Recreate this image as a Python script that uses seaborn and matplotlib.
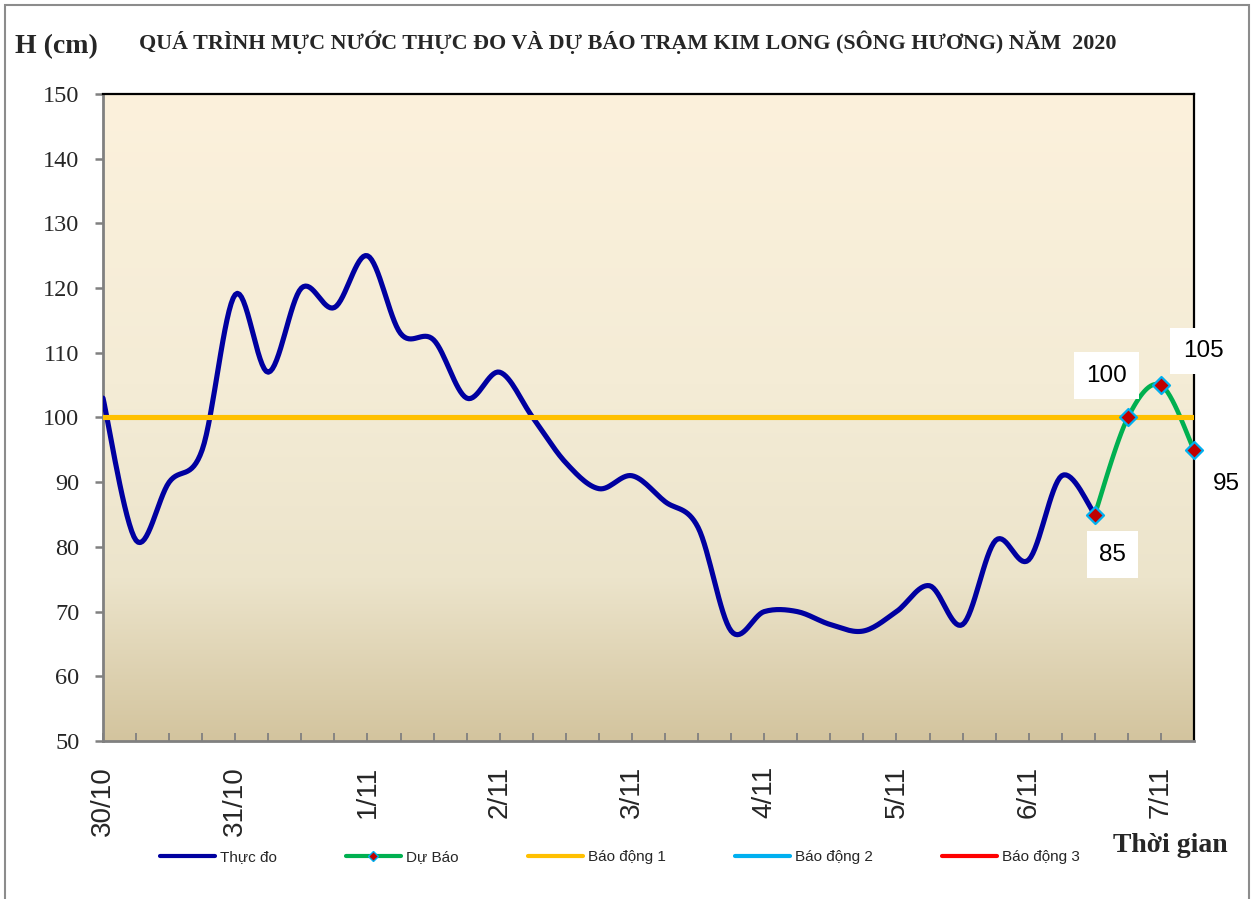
import numpy as np
import pandas as pd
import matplotlib
matplotlib.use("Agg")
import matplotlib.pyplot as plt
import seaborn as sns
from matplotlib.lines import Line2D
from matplotlib.patches import Rectangle
from matplotlib.ticker import MultipleLocator, FixedLocator, FixedFormatter

# --- data (6-hourly) ---
obs_times = pd.date_range("2020-10-30 00:00", "2020-11-06 12:00", freq="6h")
obs_level = [103, 81, 90, 95, 119, 107, 120, 117, 125, 113, 112, 103, 107, 100,
             93, 89, 91, 87, 83, 67, 70, 70, 68, 67, 70, 74, 68, 81, 78, 91, 85]
fc_times = pd.date_range("2020-11-06 12:00", "2020-11-07 06:00", freq="6h")
fc_level = [85, 100, 105, 95]
alarm_levels = [100, 200, 350]   # Báo động 1, 2, 3
day_labels = ["30/10", "31/10", "1/11", "2/11", "3/11", "4/11", "5/11", "6/11", "7/11"]

t0 = obs_times[0]
obs_h = (obs_times - t0) / pd.Timedelta(hours=1)
fc_h = (fc_times - t0) / pd.Timedelta(hours=1)

sns.set_style("white")
plt.rcParams['font.family'] = ['Liberation Sans', 'DejaVu Sans']
SERIF = ['Liberation Serif', 'DejaVu Serif']


def smooth(x, y, n=16):
    # Catmull-Rom curve through the points (like Excel "smoothed line")
    x = np.asarray(x, float)
    y = np.asarray(y, float)
    t = np.linspace(0, 1, n, endpoint=False)[None, :]
    out = []
    for v in (x, y):
        p = np.r_[v[0], v, v[-1]]
        p0, p1, p2, p3 = [p[i:i + len(v) - 1][:, None] for i in range(4)]
        c = 0.5 * (2 * p1 + (p2 - p0) * t + (2 * p0 - 5 * p1 + 4 * p2 - p3) * t ** 2
                   + (-p0 + 3 * p1 - 3 * p2 + p3) * t ** 3)
        out.append(np.r_[c.ravel(), v[-1]])
    return out


W, H = 1255, 899
fig = plt.figure(figsize=(W / 100, H / 100), dpi=100)
ax = fig.add_axes([103 / W, (H - 741) / H, (1194 - 103) / W, (741 - 94) / H])

# background gradient of plot area (row 0 = top)
stops = np.array([[252, 241, 220], [244, 236, 214], [236, 228, 203], [211, 196, 158]]) / 255
pos = [0, 0.45, 0.75, 1.0]
yy = np.linspace(0, 1, 256)
grad = np.stack([np.interp(yy, pos, stops[:, k]) for k in range(3)], axis=1)
ax.imshow(grad[:, None, :], extent=[0, 1, 0, 1], transform=ax.transAxes,
          aspect='auto', zorder=0)

xs, ys = smooth(obs_h, obs_level)
sns.lineplot(x=xs, y=ys, ax=ax, color='#0000A0', linewidth=3.7, sort=False,
             estimator=None, zorder=3, legend=False)
xs, ys = smooth(fc_h, fc_level)
sns.lineplot(x=xs, y=ys, ax=ax, color='#00B050', linewidth=3.3, sort=False,
             estimator=None, zorder=3, legend=False)

alarm_colors = ['#FFC000', '#00B0F0', '#FF0000']
for lv, col in zip(alarm_levels, alarm_colors):
    ax.axhline(lv, color=col, linewidth=3.7, zorder=4)

sns.scatterplot(x=fc_h, y=fc_level, ax=ax, marker='D', s=75, color='#C00000',
                edgecolor='#00B0F0', linewidth=1.6, zorder=6, legend=False,
                clip_on=False)

# data labels
offsets = [(18, -40), (-21, 42), (42, 34), (32, -34)]
for h, v, (dx, dy) in zip(fc_h, fc_level, offsets):
    ax.annotate(str(v), xy=(h, v), xytext=(dx, dy), textcoords='offset pixels',
                ha='center', va='center', fontsize=17.5, color='black', zorder=7,
                annotation_clip=False,
                bbox=dict(boxstyle='square,pad=0.5', fc='white', ec='none'))

ax.set_xlim(0, fc_h[-1])
ax.set_ylim(50, 150)
ax.yaxis.set_major_locator(MultipleLocator(10))
ax.xaxis.set_major_locator(FixedLocator(np.arange(len(day_labels)) * 24))
ax.xaxis.set_major_formatter(FixedFormatter(day_labels))
ax.xaxis.set_minor_locator(MultipleLocator(6))
ax.tick_params(axis='x', which='both', direction='in', length=6, width=1.3,
               color='#808080', pad=18, labelsize=20, labelrotation=90, bottom=True)
ax.tick_params(axis='y', direction='out', length=6, width=1.8, color='#808080',
               pad=11, left=True)
for lab in ax.get_yticklabels():
    lab.set_fontfamily(SERIF)
    lab.set_fontsize(17.5)
ax.set_xlabel('')
ax.set_ylabel('')

for side in ['left', 'bottom']:
    ax.spines[side].set_color('#808080')
    ax.spines[side].set_linewidth(2)
for side in ['top', 'right']:
    ax.spines[side].set_color('black')
    ax.spines[side].set_linewidth(1.6)

# texts
fig.text(628 / W, 1 - 42 / H,
         'QUÁ TRÌNH MỰC NƯỚC THỰC ĐO VÀ DỰ BÁO TRẠM KIM LONG (SÔNG HƯƠNG) NĂM  2020',
         ha='center', va='center', fontsize=15.8, fontweight='bold', family=SERIF)
fig.text(15 / W, 1 - 47 / H, 'H (cm)', ha='left', va='center', fontsize=20,
         fontweight='bold', family=SERIF)
fig.text(1228 / W, 1 - 845 / H, 'Thời gian', ha='right', va='center', fontsize=20,
         fontweight='bold', family=SERIF)

# legend
handles = [
    Line2D([], [], color='#0000A0', lw=3),
    Line2D([], [], color='#00B050', lw=3, marker='D', markersize=5,
           markerfacecolor='#C00000', markeredgecolor='#00B0F0', markeredgewidth=1),
    Line2D([], [], color=alarm_colors[0], lw=3),
    Line2D([], [], color=alarm_colors[1], lw=3),
    Line2D([], [], color=alarm_colors[2], lw=3),
]
labels = ['Thực đo', 'Dự Báo', 'Báo động 1', 'Báo động 2', 'Báo động 3']
fig.legend(handles, labels, loc='center left', bbox_to_anchor=(160 / W, 1 - 857 / H),
           ncol=5, frameon=False, fontsize=11, handlelength=3.6, handletextpad=0.35,
           columnspacing=4.5, borderpad=0, borderaxespad=0)

# outer frame
fig.patches.append(Rectangle((5 / W, -0.05), (1249 - 5) / W, (H - 5) / H + 0.05,
                             transform=fig.transFigure, fill=False,
                             edgecolor='#8c8c8c', linewidth=1.5))

fig.savefig('out.png', dpi=100)
